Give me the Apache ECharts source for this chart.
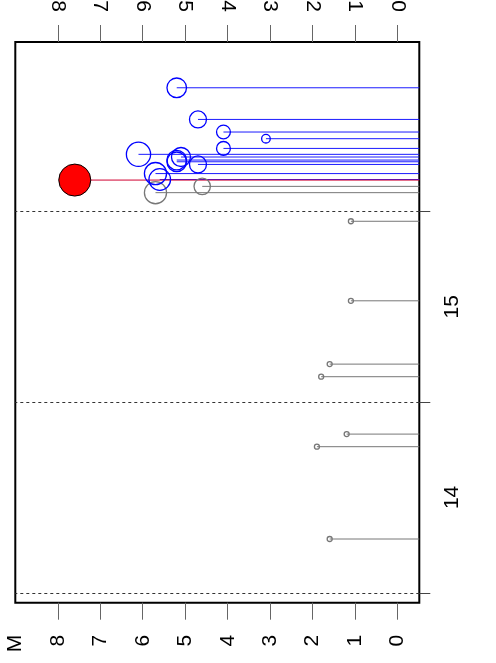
<!DOCTYPE html>
<html><head><meta charset="utf-8">
<script src="https://cdn.jsdelivr.net/npm/echarts@6/dist/echarts.min.js"></script>
<style>html,body{margin:0;padding:0;background:#fff}#c{width:496px;height:663px}</style>
</head><body><div id="c"></div>
<script>
// tick values / labels
const magTicks = [0, 1, 2, 3, 4, 5, 6, 7, 8];
const magAxisName = 'M';
const dayTicks = [14, 15, 16];
const dayLabelPos = [14.5, 15.5];
const dayLabelText = ['14', '15'];
// foreshocks (grey)
const foreTimes = [14.282, 14.766, 14.832, 15.133, 15.199, 15.531, 15.948, 16.098, 16.131];
const foreMags  = [1.6, 1.9, 1.2, 1.8, 1.6, 1.1, 1.1, 5.7, 4.6];
// mainshock (red)
const mainTimes = [16.164];
const mainMags  = [7.6];
// aftershocks (blue)
const afterTimes = [16.167, 16.198, 16.246, 16.260, 16.269, 16.285, 16.299, 16.330, 16.381, 16.416, 16.482, 16.648];
const afterMags  = [5.6, 5.7, 4.7, 5.2, 5.2, 5.1, 6.1, 4.1, 3.1, 4.1, 4.7, 5.2];

const M_MIN = -0.51, M_MAX = 9.0;
const T_MIN = 13.948, T_MAX = 16.888;
const FONT = 'Liberation Sans';

function pairs(m, t) { return m.map((v, i) => [v, t[i]]); }
function segRender(color) {
  return function (params, api) {
    const p = api.coord([api.value(0), api.value(1)]);
    const b = api.coord([M_MIN, api.value(1)]);
    return { type: 'line', shape: { x1: p[0], y1: p[1], x2: b[0], y2: b[1] },
      style: { stroke: color, lineWidth: 1 } };
  };
}
function symSize(v) { return Math.max(5, 5.2 * v[0] - 7.5); }

const chart = echarts.init(document.getElementById('c'), null, { renderer: 'canvas' });
const magAxis = (pos, withName) => ({
  type: 'value', position: pos, inverse: true, min: M_MIN, max: M_MAX,
  axisLine: { show: false, onZero: false }, splitLine: { show: false },
  axisTick: { show: true, inside: false, length: 17, customValues: magTicks, lineStyle: { color: '#666', width: 1 } },
  axisLabel: {
    customValues: withName ? magTicks.concat([M_MAX]) : magTicks,
    formatter: v => (v === M_MAX ? magAxisName : String(v)),
    rotate: 90, margin: pos === 'top' ? 30 : 32, fontSize: 21, color: '#000', fontFamily: FONT,
    showMinLabel: true, showMaxLabel: true
  }
});
const option = {
  animation: false,
  backgroundColor: '#fff',
  grid: { left: 15.3, right: 76.7, top: 42, bottom: 60.3, show: true, borderColor: '#000', borderWidth: 2,
    containLabel: false, outerBoundsMode: 'none' },
  xAxis: [magAxis('bottom', true), magAxis('top', false)],
  yAxis: {
    type: 'value', position: 'right', min: T_MIN, max: T_MAX,
    axisLine: { show: false, onZero: false }, splitLine: { show: false },
    axisTick: { show: true, inside: false, length: 11, customValues: dayTicks, lineStyle: { color: '#444', width: 1 } },
    axisLabel: {
      customValues: dayLabelPos,
      formatter: v => dayLabelText[dayLabelPos.indexOf(v)],
      rotate: 90, margin: 22, fontSize: 21, color: '#000', fontFamily: FONT
    }
  },
  series: [
    { type: 'custom', xAxisIndex: 0, yAxisIndex: 0, data: pairs(foreMags, foreTimes), renderItem: segRender('#777'),
      encode: { x: 0, y: 1 }, silent: true,
      markLine: { silent: true, symbol: ['none', 'none'], label: { show: false },
        lineStyle: { type: [3, 3], color: '#333', width: 1 },
        data: dayTicks.map(d => ({ yAxis: d })) } },
    { type: 'scatter', xAxisIndex: 0, yAxisIndex: 0, data: pairs(foreMags, foreTimes), symbol: 'circle',
      symbolSize: symSize, itemStyle: { color: 'rgba(0,0,0,0)', borderColor: '#777', borderWidth: 1.3, opacity: 1 } },
    { type: 'custom', xAxisIndex: 0, yAxisIndex: 0, data: pairs(afterMags, afterTimes), renderItem: segRender('#1a1aff'),
      encode: { x: 0, y: 1 }, silent: true },
    { type: 'scatter', xAxisIndex: 0, yAxisIndex: 0, data: pairs(afterMags, afterTimes), symbol: 'circle',
      symbolSize: symSize, itemStyle: { color: 'rgba(0,0,0,0)', borderColor: '#0000ff', borderWidth: 1.3, opacity: 1 } },
    { type: 'custom', xAxisIndex: 0, yAxisIndex: 0, data: pairs(mainMags, mainTimes), renderItem: segRender('#d00030'),
      encode: { x: 0, y: 1 }, silent: true },
    { type: 'scatter', xAxisIndex: 0, yAxisIndex: 0, data: pairs(mainMags, mainTimes), symbol: 'circle',
      symbolSize: symSize, itemStyle: { color: '#ff0000', borderColor: '#000', borderWidth: 1, opacity: 1 } }
  ]
};
chart.setOption(option);
</script>
</body></html>
